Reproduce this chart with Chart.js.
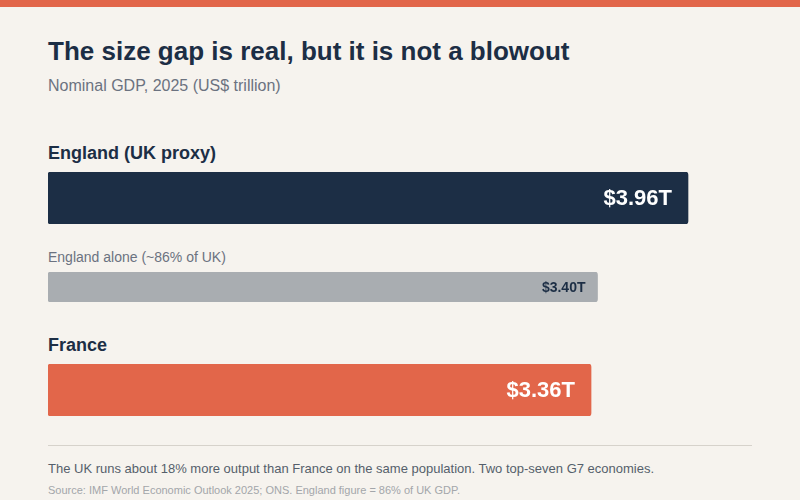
<!DOCTYPE html>
<html>
<head>
<meta charset="utf-8">
<script src="https://cdn.jsdelivr.net/npm/chart.js@4"></script>
<style>
  body { margin: 0; width: 800px; height: 500px; background: #f6f3ee; font-family: "Liberation Sans", Arial, sans-serif; position: relative; overflow: hidden; }
  .topbar { position: absolute; left: 0; top: 0; width: 800px; height: 7px; background: #e2664a; }
  .t { position: absolute; left: 48px; white-space: nowrap; }
  .wrap { position: absolute; left: 48px; width: 704px; }
</style>
</head>
<body>
<div class="topbar"></div>
<div class="t" style="top:36px;font-size:26px;font-weight:bold;color:#1c2e45">The size gap is real, but it is not a blowout</div>
<div class="t" style="top:77px;font-size:16px;color:#6b7280">Nominal GDP, 2025 (US$ trillion)</div>

<div class="t" style="top:143px;font-size:18px;font-weight:bold;color:#1c2e45" id="l0"></div>
<div class="wrap" style="top:172px;height:52px"><canvas id="c0"></canvas></div>
<div class="t" style="top:249px;font-size:14px;color:#6b7280" id="l1"></div>
<div class="wrap" style="top:272px;height:30px"><canvas id="c1"></canvas></div>
<div class="t" style="top:335px;font-size:18px;font-weight:bold;color:#1c2e45" id="l2"></div>
<div class="wrap" style="top:364px;height:52px"><canvas id="c2"></canvas></div>

<div style="position:absolute;left:48px;top:445px;width:704px;height:1px;background:#d6d2cb"></div>
<div class="t" style="top:461px;font-size:13px;color:#555f6b">The UK runs about 18% more output than France on the same population. Two top-seven G7 economies.</div>
<div class="t" style="top:484px;font-size:11px;color:#a3a6aa">Source: IMF World Economic Outlook 2025; ONS. England figure = 86% of UK GDP.</div>

<script>
const categories = ["England (UK proxy)", "England alone (~86% of UK)", "France"];
const values = [3.96, 3.40, 3.36];
const valueLabels = ["$3.96T", "$3.40T", "$3.36T"];
const colors = ["#1c2e45", "#a9adb1", "#e2664a"];
const labelColors = ["#ffffff", "#1c2e45", "#ffffff"];
const labelFonts = ["bold 22px 'Liberation Sans', Arial", "bold 14px 'Liberation Sans', Arial", "bold 22px 'Liberation Sans', Arial"];
const xMax = 3.96 * 704 / 640;

const valueLabel = {
  id: "valueLabel",
  afterDatasetsDraw(chart) {
    const i = chart.options.plugins.valueLabel.idx;
    const bar = chart.getDatasetMeta(0).data[0];
    const ctx = chart.ctx;
    ctx.save();
    ctx.font = labelFonts[i];
    ctx.fillStyle = labelColors[i];
    ctx.textAlign = "right";
    ctx.textBaseline = "middle";
    ctx.fillText(valueLabels[i], bar.x - (i === 1 ? 12 : 16), bar.y + 1);
    ctx.restore();
  },
};

categories.forEach((cat, i) => {
  document.getElementById("l" + i).textContent = cat;
  new Chart(document.getElementById("c" + i), {
    type: "bar",
    data: {
      labels: [cat],
      datasets: [{
        data: [values[i]],
        backgroundColor: colors[i],
        borderRadius: 3,
        borderSkipped: false,
        barPercentage: 1,
        categoryPercentage: 1,
      }],
    },
    options: {
      indexAxis: "y",
      responsive: true,
      maintainAspectRatio: false,
      animation: false,
      layout: { padding: 0 },
      plugins: { legend: { display: false }, tooltip: { enabled: false }, valueLabel: { idx: i } },
      scales: {
        x: { display: false, min: 0, max: xMax },
        y: { display: false },
      },
    },
    plugins: [valueLabel],
  });
});
</script>
</body>
</html>
